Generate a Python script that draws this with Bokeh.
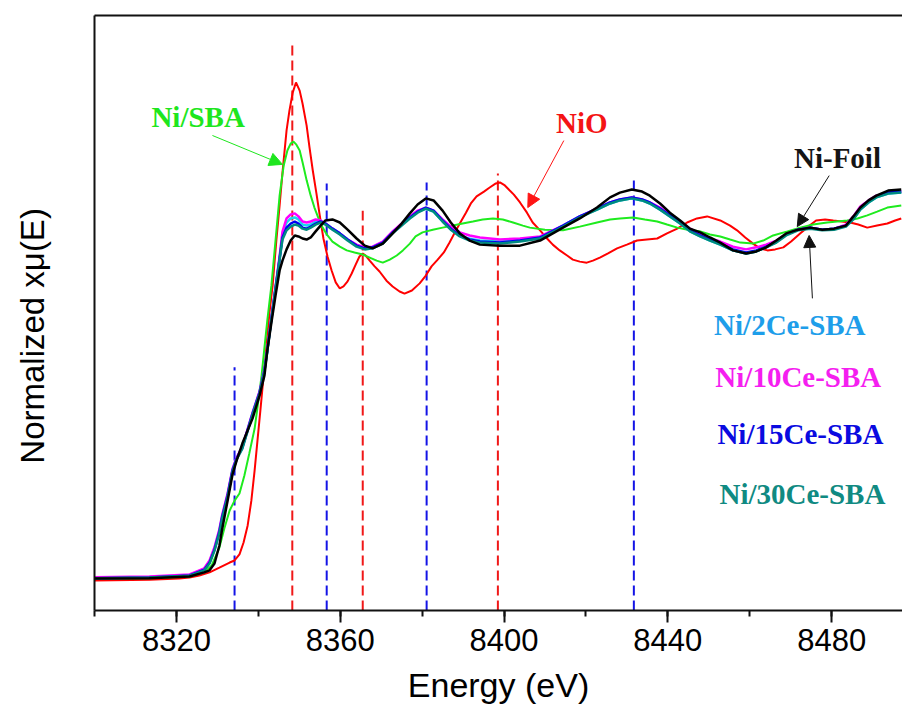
import math
from bokeh.plotting import figure
from bokeh.models import (Range1d, SingleIntervalTicker, FixedTicker, LinearAxis,
                          Label, Arrow, NormalHead)
from bokeh.embed import file_html
from bokeh.resources import INLINE

# ---------------- data ----------------
# shared energy grid (eV) for Ni-Foil and the Ce-promoted samples
energy_grid = [8300, 8313.4, 8323.2, 8326.8, 8328.1, 8329.3, 8330.5, 8331.2, 8332.5, 8333.7,
               8334.7, 8336.1, 8338.6, 8340.3, 8341.5, 8342.2, 8343.2, 8344.2, 8345.2, 8345.9,
               8346.9, 8347.9, 8348.9, 8349.8, 8350.8, 8351.8, 8352.8, 8354.0, 8355.2, 8356.4,
               8358.1, 8359.9, 8361.8, 8364.0, 8366.0, 8367.9, 8370.4, 8372.8, 8375.0, 8377.0,
               8378.9, 8380.9, 8382.8, 8385.0, 8387.0, 8389.2, 8391.6, 8394.1, 8399.0, 8403.9,
               8408.8, 8414.4, 8418.5, 8422.7, 8425.9, 8428.3, 8431.2, 8433.7, 8435.6, 8438.1,
               8440.5, 8443.0, 8445.4, 8447.9, 8450.3, 8452.8, 8455.9, 8459.1, 8461.6, 8464.0,
               8466.5, 8468.9, 8471.8, 8474.8, 8477.7, 8480.6, 8483.5, 8485.3, 8487.0, 8489.0,
               8490.9, 8493.8, 8497.0]

mu_ni_foil = [0.000, 0.001, 0.006, 0.018, 0.024, 0.044, 0.097, 0.147, 0.229, 0.306,
              0.347, 0.397, 0.471, 0.538, 0.597, 0.671, 0.753, 0.832, 0.906, 0.935,
              0.968, 0.994, 1.009, 1.006, 1.000, 0.997, 1.003, 1.021, 1.038, 1.053,
              1.056, 1.047, 1.026, 1.000, 0.979, 0.971, 0.985, 1.015, 1.044, 1.074,
              1.100, 1.118, 1.112, 1.082, 1.047, 1.015, 0.994, 0.982, 0.979, 0.979,
              0.994, 1.032, 1.059, 1.091, 1.121, 1.135, 1.144, 1.138, 1.126, 1.103,
              1.076, 1.053, 1.029, 1.018, 1.003, 0.988, 0.965, 0.956, 0.962, 0.974,
              0.994, 1.015, 1.026, 1.032, 1.026, 1.029, 1.038, 1.065, 1.091, 1.112,
              1.126, 1.141, 1.144]

mu_ni_2ce = [0.002, 0.004, 0.010, 0.028, 0.050, 0.089, 0.142, 0.185, 0.247, 0.320,
             0.355, 0.386, 0.487, 0.548, 0.613, 0.672, 0.766, 0.855, 0.944, 1.012,
             1.047, 1.059, 1.062, 1.056, 1.041, 1.038, 1.041, 1.050, 1.052, 1.044,
             1.029, 1.015, 0.997, 0.980, 0.972, 0.975, 0.989, 1.019, 1.041, 1.062,
             1.079, 1.088, 1.079, 1.050, 1.027, 1.009, 0.999, 0.994, 0.991, 0.996,
             1.004, 1.038, 1.065, 1.085, 1.103, 1.112, 1.118, 1.112, 1.103, 1.085,
             1.065, 1.044, 1.021, 1.006, 0.994, 0.982, 0.965, 0.956, 0.962, 0.974,
             0.990, 1.012, 1.026, 1.032, 1.026, 1.029, 1.038, 1.059, 1.085, 1.106,
             1.121, 1.132, 1.135]

mu_ni_10ce = [0.004, 0.006, 0.012, 0.030, 0.053, 0.092, 0.145, 0.188, 0.250, 0.322,
              0.356, 0.388, 0.488, 0.550, 0.615, 0.674, 0.768, 0.856, 0.947, 1.020,
              1.059, 1.071, 1.074, 1.065, 1.050, 1.047, 1.050, 1.056, 1.053, 1.044,
              1.029, 1.015, 0.997, 0.982, 0.974, 0.976, 0.991, 1.021, 1.044, 1.065,
              1.082, 1.091, 1.082, 1.056, 1.035, 1.018, 1.009, 1.003, 0.997, 1.000,
              1.006, 1.038, 1.065, 1.088, 1.106, 1.115, 1.121, 1.115, 1.106, 1.091,
              1.071, 1.050, 1.029, 1.012, 1.000, 0.991, 0.976, 0.968, 0.974, 0.982,
              0.994, 1.012, 1.026, 1.032, 1.026, 1.029, 1.041, 1.065, 1.094, 1.112,
              1.126, 1.135, 1.138]

mu_ni_15ce = [0.001, 0.003, 0.009, 0.026, 0.047, 0.085, 0.138, 0.182, 0.244, 0.318,
              0.353, 0.385, 0.485, 0.547, 0.612, 0.671, 0.765, 0.853, 0.941, 1.003,
              1.032, 1.044, 1.050, 1.044, 1.032, 1.029, 1.035, 1.044, 1.050, 1.044,
              1.029, 1.015, 0.997, 0.979, 0.971, 0.974, 0.988, 1.018, 1.041, 1.062,
              1.079, 1.091, 1.082, 1.053, 1.029, 1.009, 0.997, 0.991, 0.988, 0.994,
              1.003, 1.038, 1.065, 1.088, 1.106, 1.115, 1.121, 1.115, 1.106, 1.088,
              1.068, 1.047, 1.024, 1.009, 0.997, 0.985, 0.968, 0.959, 0.965, 0.976,
              0.991, 1.012, 1.026, 1.032, 1.026, 1.029, 1.038, 1.059, 1.088, 1.109,
              1.124, 1.135, 1.138]

mu_ni_30ce = [0.001, 0.003, 0.008, 0.024, 0.044, 0.082, 0.134, 0.178, 0.240, 0.314,
              0.350, 0.382, 0.482, 0.544, 0.609, 0.668, 0.762, 0.850, 0.938, 0.997,
              1.024, 1.035, 1.041, 1.038, 1.029, 1.026, 1.032, 1.041, 1.047, 1.041,
              1.026, 1.012, 0.994, 0.976, 0.968, 0.971, 0.985, 1.015, 1.038, 1.059,
              1.076, 1.088, 1.079, 1.050, 1.026, 1.006, 0.994, 0.988, 0.985, 0.991,
              1.000, 1.035, 1.062, 1.085, 1.103, 1.112, 1.118, 1.112, 1.103, 1.085,
              1.065, 1.044, 1.021, 1.006, 0.994, 0.982, 0.965, 0.956, 0.962, 0.974,
              0.988, 1.009, 1.024, 1.029, 1.024, 1.026, 1.035, 1.056, 1.085, 1.106,
              1.121, 1.132, 1.135]

energy_sba = [8300, 8313.4, 8323.2, 8326.8, 8328.6, 8330.5, 8331.7, 8333.0, 8334.2, 8335.4,
              8336.6, 8337.8, 8339.1, 8339.8, 8340.8, 8341.5, 8342.2, 8343.2, 8344.2, 8345.2,
              8346.2, 8347.1, 8347.9, 8348.6, 8349.3, 8350.1, 8350.8, 8351.8, 8352.8, 8353.7,
              8354.7, 8355.7, 8356.9, 8358.1, 8359.9, 8361.6, 8363.5, 8365.5, 8367.2, 8368.9,
              8370.4, 8372.1, 8373.8, 8375.3, 8377.0, 8378.4, 8380.1, 8382.6, 8385.0, 8387.5,
              8389.9, 8392.4, 8394.8, 8397.3, 8399.7, 8402.2, 8404.6, 8406.3, 8410.0, 8414.4,
              8418.5, 8422.7, 8425.9, 8428.3, 8431.5, 8434.4, 8437.4, 8439.8, 8442.3, 8445.4,
              8447.9, 8450.3, 8452.8, 8455.2, 8457.7, 8460.8, 8463.3, 8465.7, 8469.2, 8472.3,
              8475.5, 8478.9, 8483.8, 8486.3, 8488.7, 8491.1, 8493.6, 8497.0]
mu_ni_sba = [0.000, 0.001, 0.006, 0.018, 0.038, 0.091, 0.147, 0.200, 0.229, 0.250,
             0.303, 0.368, 0.441, 0.503, 0.597, 0.679, 0.759, 0.862, 0.994, 1.126,
             1.215, 1.259, 1.279, 1.285, 1.276, 1.259, 1.224, 1.171, 1.126, 1.091,
             1.059, 1.032, 1.009, 0.991, 0.976, 0.965, 0.959, 0.953, 0.944, 0.935,
             0.929, 0.938, 0.950, 0.965, 0.985, 1.006, 1.018, 1.026, 1.032, 1.038,
             1.044, 1.050, 1.056, 1.059, 1.056, 1.047, 1.038, 1.032, 1.026, 1.024,
             1.035, 1.047, 1.056, 1.059, 1.062, 1.056, 1.050, 1.041, 1.032, 1.024,
             1.021, 1.012, 1.006, 0.997, 0.988, 0.985, 0.994, 1.009, 1.021, 1.032,
             1.041, 1.047, 1.053, 1.059, 1.068, 1.079, 1.091, 1.097]

energy_nio = [8300, 8313.4, 8320.7, 8323.2, 8325.6, 8328.1, 8330.5, 8333.0, 8334.2, 8335.4,
              8336.4, 8337.4, 8338.3, 8339.1, 8339.8, 8340.5, 8341.3, 8342.0, 8342.7, 8343.5,
              8344.4, 8345.2, 8345.9, 8346.9, 8347.6, 8348.4, 8349.2, 8350.1, 8350.8, 8351.8,
              8352.5, 8353.3, 8354.2, 8355.0, 8355.9, 8356.9, 8357.9, 8358.9, 8359.9, 8360.8,
              8361.8, 8362.8, 8363.8, 8364.7, 8365.5, 8366.2, 8367.2, 8368.4, 8369.6, 8371.3,
              8372.8, 8374.5, 8375.7, 8377.5, 8379.4, 8380.9, 8382.3, 8383.8, 8385.3, 8386.7,
              8388.0, 8389.2, 8390.7, 8391.9, 8393.3, 8395.1, 8396.5, 8398.0, 8399.0, 8400.2,
              8401.4, 8402.4, 8403.9, 8405.6, 8407.0, 8408.8, 8410.5, 8411.9, 8413.6, 8415.4,
              8416.8, 8418.5, 8420.2, 8421.7, 8423.4, 8425.4, 8427.6, 8430.0, 8432.5, 8434.9,
              8437.4, 8439.8, 8442.3, 8444.7, 8447.1, 8449.6, 8452.8, 8455.2, 8456.9, 8458.9,
              8460.8, 8462.5, 8464.3, 8466.2, 8468.2, 8470.1, 8472.3, 8474.3, 8476.2, 8478.4,
              8480.4, 8482.5, 8484.5, 8486.5, 8488.7, 8491.1, 8493.6, 8495.5, 8497.0]
mu_nio = [-0.006, -0.004, 0.000, 0.003, 0.009, 0.018, 0.032, 0.047, 0.053, 0.071,
          0.106, 0.156, 0.229, 0.318, 0.406, 0.494, 0.597, 0.685, 0.779, 0.862,
          0.994, 1.097, 1.194, 1.318, 1.376, 1.429, 1.459, 1.435, 1.397, 1.332,
          1.268, 1.200, 1.132, 1.068, 1.000, 0.947, 0.906, 0.871, 0.853, 0.859,
          0.874, 0.897, 0.924, 0.947, 0.956, 0.950, 0.935, 0.918, 0.903, 0.876,
          0.859, 0.844, 0.838, 0.847, 0.868, 0.891, 0.918, 0.938, 0.959, 0.988,
          1.018, 1.044, 1.076, 1.103, 1.124, 1.138, 1.150, 1.162, 1.165, 1.156,
          1.141, 1.129, 1.106, 1.076, 1.047, 1.024, 1.000, 0.982, 0.965, 0.950,
          0.938, 0.932, 0.929, 0.935, 0.944, 0.956, 0.971, 0.982, 0.994, 0.997,
          1.000, 1.015, 1.029, 1.047, 1.059, 1.065, 1.053, 1.038, 1.024, 1.003,
          0.985, 0.971, 0.965, 0.968, 0.974, 0.991, 1.015, 1.035, 1.053, 1.056,
          1.053, 1.050, 1.047, 1.041, 1.032, 1.038, 1.044, 1.053, 1.059]

# reference energies (dashed guide lines) and their upper ends
blue_guides_e = [8334.2, 8356.7, 8381.1, 8431.7]
blue_guides_top = [0.621, 1.162, 1.165, 1.179]
red_guides_e = [8348.3, 8365.5, 8398.5]
red_guides_top = [1.576, 1.082, 1.191]

sample_names = ["Ni/2Ce-SBA", "Ni/10Ce-SBA", "Ni/15Ce-SBA", "Ni/30Ce-SBA"]
sample_text_colors = ["#1E9EEA", "#F51EF0", "#0A0AE0", "#108A82"]
sample_line_colors = ["#1CD8EC", "#FF00FF", "#0000F0", "#008B80"]

X_MIN, X_MAX = 8300, 8497.3
Y_MIN, Y_MAX = -0.0941, 1.6559

# ---------------- figure ----------------
p = figure(width=902, height=711, output_backend="svg", toolbar_location=None,
           x_range=Range1d(X_MIN, X_MAX), y_range=Range1d(Y_MIN, Y_MAX),
           min_border_left=94, min_border_right=0, min_border_top=15, min_border_bottom=101)
p.background_fill_color = "white"
p.border_fill_color = "white"
p.outline_line_color = None
p.grid.visible = False

xa = p.xaxis[0]
xa.ticker = SingleIntervalTicker(interval=40, num_minor_ticks=2)
xa.axis_line_width = 2
xa.axis_line_color = "#111111"
xa.major_tick_in = 0
xa.major_tick_out = 12
xa.minor_tick_in = 0
xa.minor_tick_out = 6
xa.major_tick_line_width = 2
xa.minor_tick_line_width = 2
xa.major_tick_line_color = "#111111"
xa.minor_tick_line_color = "#111111"
xa.major_label_text_font = "Liberation Sans"
xa.major_label_text_font_size = "31px"
xa.major_label_text_color = "black"
xa.major_label_standoff = 6
xa.axis_label = "Energy (eV)"
xa.axis_label_text_font = "Liberation Sans"
xa.axis_label_text_font_size = "34px"
xa.axis_label_text_font_style = "normal"
xa.axis_label_text_color = "black"
xa.axis_label_standoff = 12

ya = p.yaxis[0]
ya.ticker = FixedTicker(ticks=[])
ya.axis_line_width = 2
ya.axis_line_color = "#111111"
ya.major_tick_out = 0
ya.minor_tick_out = 0
ya.major_label_standoff = 0
# trailing no-break spaces move the visible title down, as in the original
ya.axis_label = "Normalized xμ(E)" + "\u00a0" * 5
ya.axis_label_text_font = "Liberation Sans"
ya.axis_label_text_font_size = "33px"
ya.axis_label_text_font_style = "normal"
ya.axis_label_text_color = "black"
ya.axis_label_standoff = 44

top_axis = LinearAxis(ticker=FixedTicker(ticks=[]), axis_line_width=2, axis_line_color="#111111",
                      major_tick_out=0, minor_tick_out=0, major_label_standoff=0)
p.add_layout(top_axis, "above")

# dashed guide lines
p.segment(x0=blue_guides_e, y0=[Y_MIN] * len(blue_guides_e), x1=blue_guides_e, y1=blue_guides_top,
          line_color="#1414E6", line_width=2, line_dash="10 5")
p.segment(x0=red_guides_e, y0=[Y_MIN] * len(red_guides_e), x1=red_guides_e, y1=red_guides_top,
          line_color="#F01818", line_width=2, line_dash="10 5")

# spectra
p.line(energy_nio, mu_nio, line_color="#FF0000", line_width=2)
p.line(energy_sba, mu_ni_sba, line_color="#1EEB1E", line_width=2)
for mu, col in zip([mu_ni_2ce, mu_ni_10ce, mu_ni_15ce, mu_ni_30ce], sample_line_colors):
    p.line(energy_grid, mu, line_color=col, line_width=2.5)
p.line(energy_grid, mu_ni_foil, line_color="#000000", line_width=2.5)

# annotations
def add_text(txt, x, y, color):
    p.add_layout(Label(x=x, y=y, text=txt, text_color=color, text_font="Liberation Serif",
                       text_font_style="bold", text_font_size="29px",
                       text_align="left", text_baseline="alphabetic"))

add_text("Ni/SBA", 8313.9, 1.358, "#1EE61E")
add_text("NiO", 8412.7, 1.341, "#F41414")
add_text("Ni-Foil", 8470.8, 1.238, "#141414")
label_x = [8451.3, 8451.6, 8452.1, 8452.6]
label_y = [0.747, 0.594, 0.426, 0.250]
for name, col, lx, ly in zip(sample_names, sample_text_colors, label_x, label_y):
    add_text(name, lx, ly, col)

def add_arrow(xs, ys, xe, ye, color, size):
    p.add_layout(Arrow(end=NormalHead(size=size, fill_color=color, line_color=color, line_width=1),
                       x_start=xs, y_start=ys, x_end=xe, y_end=ye,
                       line_color=color, line_width=1))

add_arrow(8328.8, 1.303, 8345.9, 1.218, "#1EE61E", 13)
add_arrow(8414.6, 1.288, 8405.8, 1.091, "#FF1414", 13)
add_arrow(8479.4, 1.185, 8471.6, 1.035, "#111111", 12)
add_arrow(8475.3, 0.824, 8474.5, 1.009, "#111111", 12)

open("out.html", "w").write(file_html(p, INLINE))
